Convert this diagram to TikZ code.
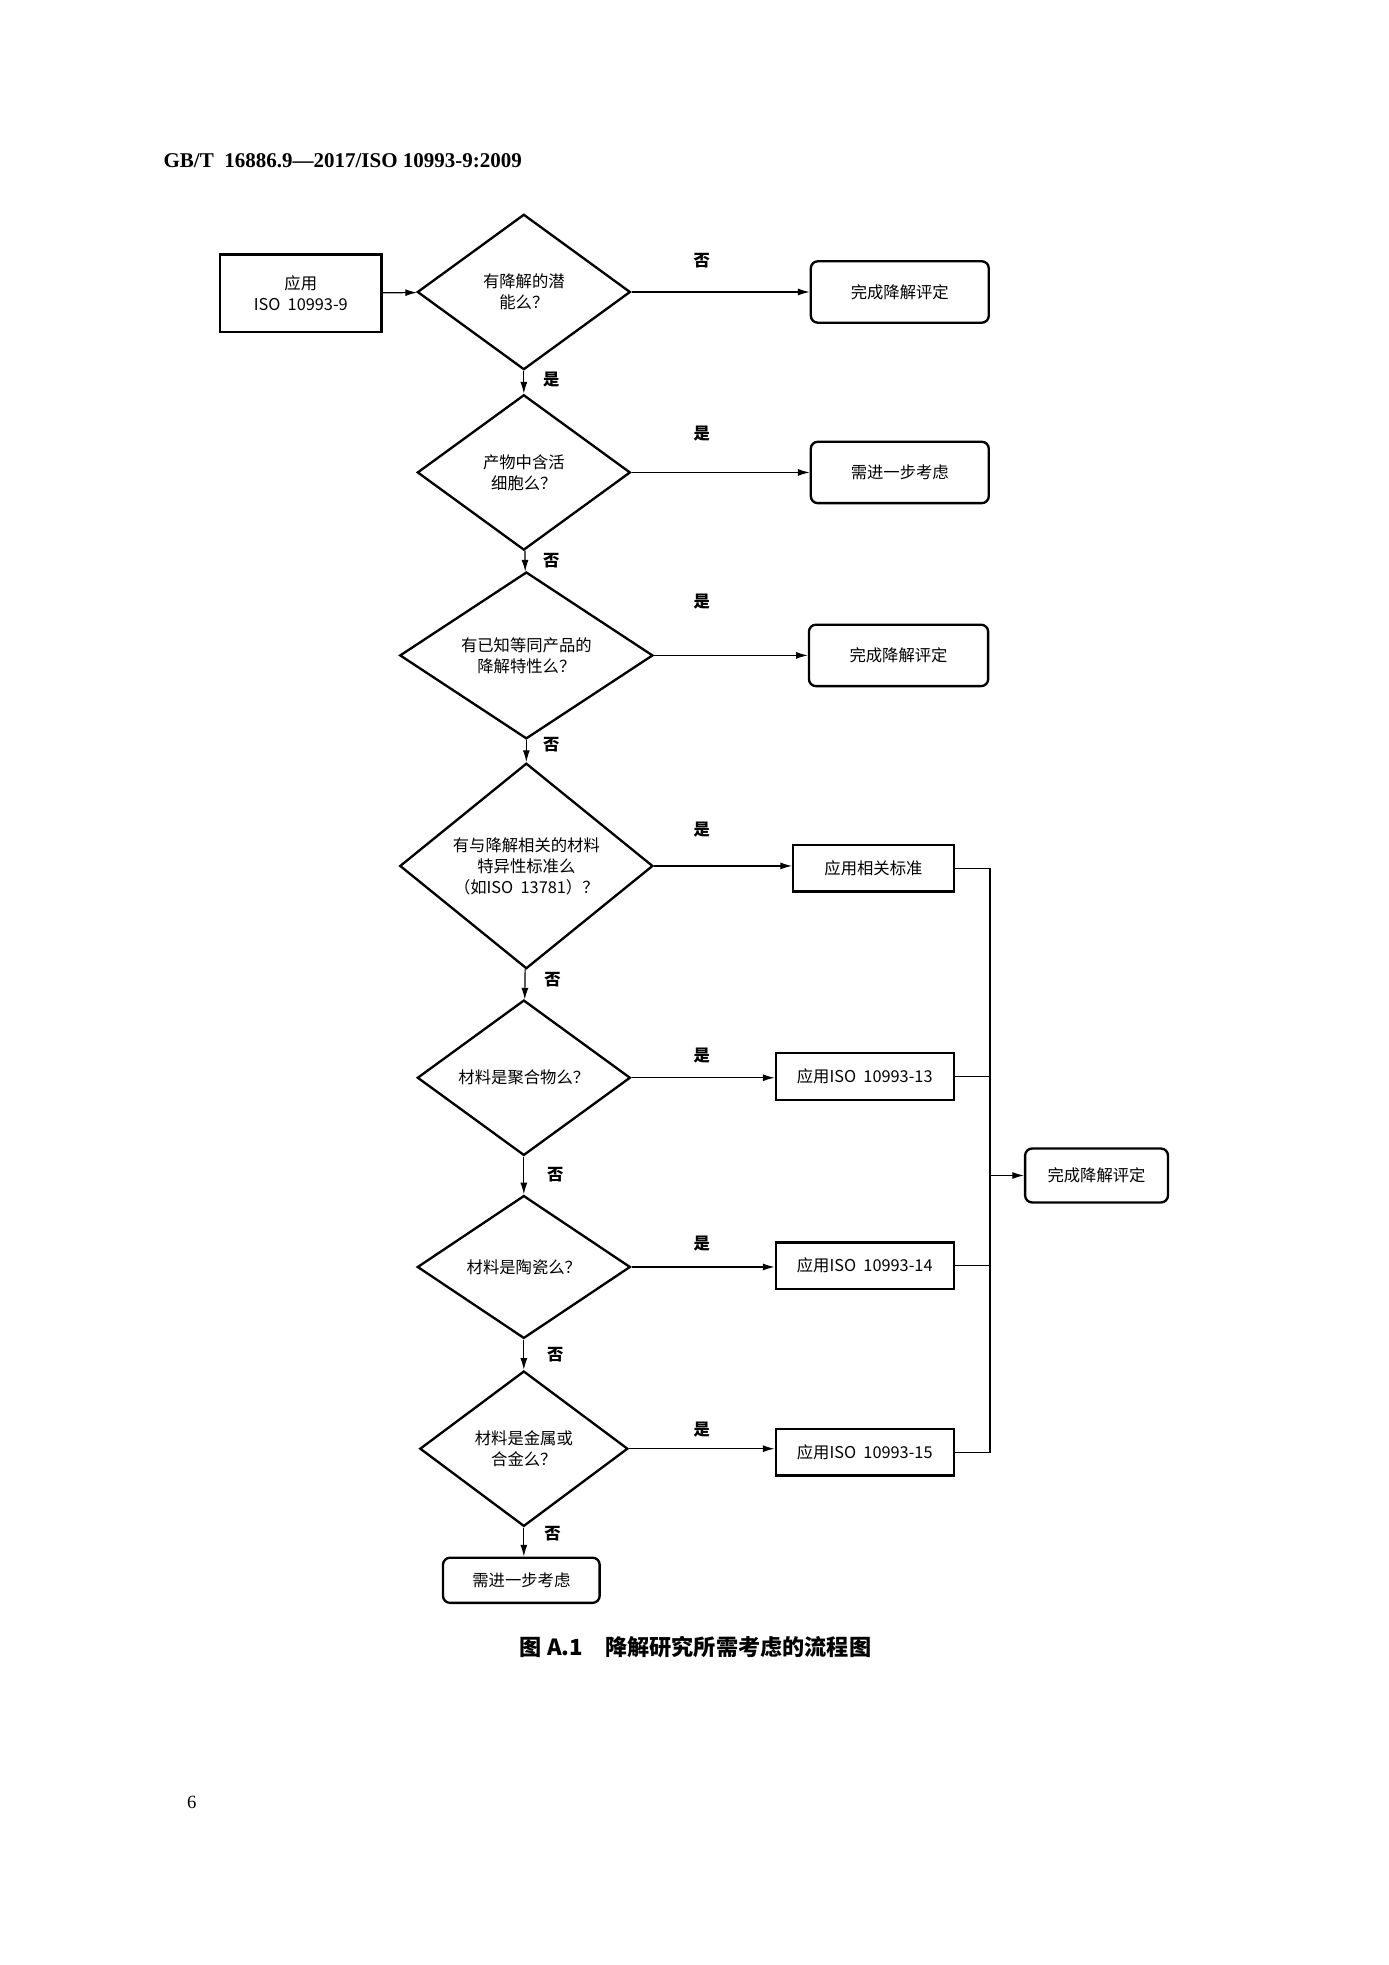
\documentclass[tikz,border=0pt]{standalone}
\usepackage{fontspec}
\setmainfont{Liberation Serif}
\newfontfamily\cjk{Noto Sans CJK SC}
\usetikzlibrary{shapes.geometric,arrows.meta}
\newdimen\pxu \pxu=0.537pt

\begin{document}
\begin{tikzpicture}[x=\pxu, y=-\pxu,
    every node/.style={font=\cjk\fontsize{7}{9}\selectfont},
    dia/.style={draw, line width=1pt, diamond, inner sep=0pt, align=center},
    box/.style={draw, line width=1pt, inner sep=0pt, align=center},
    rbox/.style={box, rounded corners=3pt},
    lbl/.style={font=\cjk\bfseries\fontsize{7}{9}\selectfont},
    arr/.style={-{Latex[length=5pt,width=3pt]}, line width=0.5pt}]
    \useasboundingbox (0,0) rectangle (1108,1568);
    % header, caption, page number
    \node[anchor=west, font=\bfseries\fontsize{9}{11}\selectfont] (head) at (124,128) {GB/T\ \ 16886.9—2017/ISO\ 10993-9:2009};
    \node[font=\cjk\bfseries\fontsize{9.5}{11}\selectfont] (cap) at (555,1314) {图\ A.1\quad 降解研究所需考虑的流程图};
    \node[font=\fontsize{8}{10}\selectfont] (page) at (153,1438) {6};
    % start
    \node[box, minimum width=129\pxu, minimum height=62\pxu] (start) at (240,234) {应用\\ISO\ \ 10993-9};
    % decisions
    \node[dia, minimum width=170\pxu, minimum height=124\pxu] (d1) at (418,233) {有降解的潜\\能么？};
    \node[dia, minimum width=170\pxu, minimum height=124\pxu] (d2) at (418,377) {产物中含活\\细胞么？};
    \node[dia, minimum width=202\pxu, minimum height=124\pxu] (d3) at (420,523) {有已知等同产品的\\降解特性么？};
    \node[dia, minimum width=202\pxu, minimum height=164\pxu] (d4) at (420,691) {有与降解相关的材料\\特异性标准么\\（如ISO\ \ 13781）？};
    \node[dia, minimum width=170\pxu, minimum height=124\pxu] (d5) at (418,860) {材料是聚合物么？};
    \node[dia, minimum width=170\pxu, minimum height=114\pxu] (d6) at (418,1011) {材料是陶瓷么？};
    \node[dia, minimum width=166\pxu, minimum height=124\pxu] (d7) at (418,1156) {材料是金属或\\合金么？};
    % outcomes
    \node[rbox, minimum width=142\pxu, minimum height=49\pxu] (o1) at (718,233) {完成降解评定};
    \node[rbox, minimum width=142\pxu, minimum height=49\pxu] (o2) at (718,377) {需进一步考虑};
    \node[rbox, minimum width=143\pxu, minimum height=49\pxu] (o3) at (717,523) {完成降解评定};
    \node[box, minimum width=128\pxu, minimum height=37\pxu] (s4) at (697,693) {应用相关标准};
    \node[box, minimum width=142\pxu, minimum height=37\pxu] (s5) at (690,859) {应用ISO\ \ 10993-13};
    \node[box, minimum width=142\pxu, minimum height=37\pxu] (s6) at (690,1010) {应用ISO\ \ 10993-14};
    \node[box, minimum width=142\pxu, minimum height=37\pxu] (s7) at (690,1159) {应用ISO\ \ 10993-15};
    \node[rbox, minimum width=114\pxu, minimum height=43\pxu] (fin) at (875,938) {完成降解评定};
    \node[rbox, minimum width=125\pxu, minimum height=36\pxu] (more) at (416,1261) {需进一步考虑};
    % connectors
    \draw[arr] (start) -- (d1);
    \draw[arr] (d1) -- (o1);
    \draw[arr] (d2) -- (o2);
    \draw[arr] (d3) -- (o3);
    \draw[arr] (d4.east) -- (s4.west |- d4.east);
    \draw[arr] (d5) -- (s5.west |- d5.east);
    \draw[arr] (d6) -- (s6.west |- d6.east);
    \draw[arr] (d7.east) -- (s7.west |- d7.east);
    \draw[arr] (d1) -- (d2);
    \draw[arr] (d2) -- (d3);
    \draw[arr] (d3) -- (d4);
    \draw[arr] (d4) -- (d5);
    \draw[arr] (d5) -- (d6);
    \draw[arr] (d6) -- (d7);
    \draw[arr] (d7.south) -- (more.north -| d7.south);
    \coordinate (bus) at (790,938);
    \draw[line width=0.5pt] (s4.east) -| (bus |- s7.east) -- (s7.east);
    \draw[line width=0.5pt] (s5.east) -- (bus |- s5.east);
    \draw[line width=0.5pt] (s6.east) -- (bus |- s6.east);
    \draw[arr] (bus) -- (fin);
    % labels
    \node[lbl] (l1) at (560,208) {否};
    \node[lbl] (l2) at (440,303) {是};
    \node[lbl] (l3) at (560,346) {是};
    \node[lbl] (l4) at (440,447) {否};
    \node[lbl] (l5) at (560,480) {是};
    \node[lbl] (l6) at (440,594) {否};
    \node[lbl] (l7) at (560,662) {是};
    \node[lbl] (l8) at (441,782) {否};
    \node[lbl] (l9) at (560,842) {是};
    \node[lbl] (l10) at (443,937) {否};
    \node[lbl] (l11) at (560,992) {是};
    \node[lbl] (l12) at (443,1081) {否};
    \node[lbl] (l13) at (560,1141) {是};
    \node[lbl] (l14) at (441,1224) {否};
\end{tikzpicture}
\end{document}
